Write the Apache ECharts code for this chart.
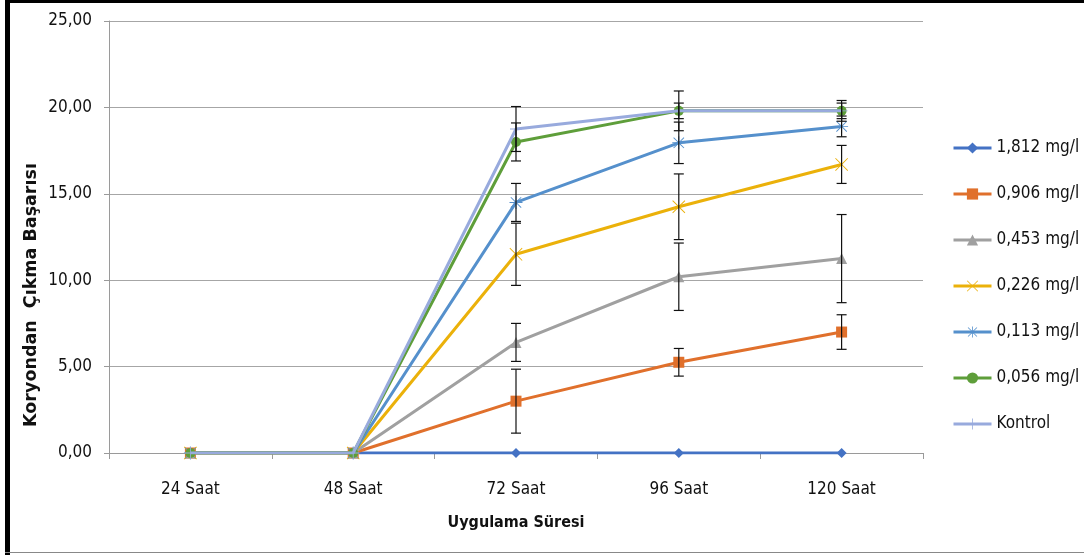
<!DOCTYPE html>
<html>
<head>
<meta charset="utf-8">
<script src="https://cdn.jsdelivr.net/npm/echarts@6/dist/echarts.min.js"></script>
<style>
html,body{margin:0;padding:0;background:#fff;}
#c{width:1084px;height:555px;}
</style>
</head>
<body>
<div id="c"></div>
<script>
// ---- data ----
var categories = ['24 Saat', '48 Saat', '72 Saat', '96 Saat', '120 Saat'];
var seriesNames = ['1,812 mg/l', '0,906 mg/l', '0,453 mg/l', '0,226 mg/l', '0,113 mg/l', '0,056 mg/l', 'Kontrol'];
var v1812 = [0, 0, 0, 0, 0];
var v0906 = [0, 0, 3.0, 5.25, 7.0];
var v0453 = [0, 0, 6.4, 10.2, 11.25];
var v0226 = [0, 0, 11.5, 14.25, 16.7];
var v0113 = [0, 0, 14.5, 17.95, 18.9];
var v0056 = [0, 0, 18.0, 19.8, 19.8];
var vKontrol = [0, 0, 18.75, 19.8, 19.8];
var e1812 = [0, 0, 0, 0, 0];
var e0906 = [0, 0, 1.85, 0.8, 1.0];
var e0453 = [0, 0, 1.1, 1.95, 2.55];
var e0226 = [0, 0, 1.8, 1.9, 1.1];
var e0113 = [0, 0, 1.1, 1.2, 0.6];
var e0056 = [0, 0, 1.1, 1.15, 0.6];
var eKontrol = [0, 0, 1.3, 0.45, 0.45];
var yTicks = [0, 5, 10, 15, 20, 25];

// ---- styles ----
var FONT = "'DejaVu Sans Condensed', 'Liberation Sans Narrow', 'Noto Sans', sans-serif";
var colors = ['#4472C4', '#E0702C', '#A0A0A0', '#EBB10A', '#5590CC', '#5E9E3A', '#98AADD'];
var symX = 'path://M0,1 L1,0 L10,9 L19,0 L20,1 L11,10 L20,19 L19,20 L10,11 L1,20 L0,19 L9,10 Z';
var symStar = 'path://M9.3,0 L10.7,0 L10.7,8.3 L17.5,1.5 L18.5,2.5 L11.7,9.3 L20,9.3 L20,10.7 L11.7,10.7 L18.5,17.5 L17.5,18.5 L10.7,11.7 L10.7,20 L9.3,20 L9.3,11.7 L2.5,18.5 L1.5,17.5 L8.3,10.7 L0,10.7 L0,9.3 L8.3,9.3 L1.5,2.5 L2.5,1.5 L9.3,8.3 Z';
var symPlus = 'path://M9.3,0 L10.7,0 L10.7,9.3 L20,9.3 L20,10.7 L10.7,10.7 L10.7,20 L9.3,20 L9.3,10.7 L0,10.7 L0,9.3 L9.3,9.3 Z';
var symbols = ['diamond', 'rect', 'triangle', symX, symStar, 'circle', symPlus];
var sizes = [10, 11, 11, 13, 13, 10, 12];
var values = [v1812, v0906, v0453, v0226, v0113, v0056, vKontrol];
var errors = [e1812, e0906, e0453, e0226, e0113, e0056, eKontrol];

var series = [];
for (var i = 0; i < seriesNames.length; i++) {
  series.push({
    name: seriesNames[i],
    type: 'line',
    data: values[i],
    symbol: symbols[i],
    symbolSize: sizes[i],
    showAllSymbol: true,
    z: 2 + i,
    lineStyle: { color: colors[i], width: 3 },
    itemStyle: { color: colors[i] },
    emphasis: { disabled: true },
    animation: false
  });
}

var errData = [];
for (var s = 0; s < values.length; s++) {
  for (var k = 0; k < categories.length; k++) {
    if (errors[s][k] > 0) {
      errData.push([k, values[s][k] - errors[s][k], values[s][k] + errors[s][k]]);
    }
  }
}
series.push({
  type: 'custom',
  name: 'err',
  z: 20,
  silent: true,
  animation: false,
  encode: { x: 0, y: [1, 2] },
  data: errData,
  renderItem: function (params, api) {
    var x = api.value(0);
    var lo = api.coord([x, api.value(1)]);
    var hi = api.coord([x, api.value(2)]);
    var hw = 5;
    var st = { stroke: '#111', lineWidth: 1.2 };
    return {
      type: 'group',
      children: [
        { type: 'line', shape: { x1: lo[0], y1: lo[1], x2: hi[0], y2: hi[1] }, style: st },
        { type: 'line', shape: { x1: lo[0] - hw, y1: lo[1], x2: lo[0] + hw, y2: lo[1] }, style: st },
        { type: 'line', shape: { x1: hi[0] - hw, y1: hi[1], x2: hi[0] + hw, y2: hi[1] }, style: st }
      ]
    };
  }
});

var chart = echarts.init(document.getElementById('c'), null, { renderer: 'canvas' });
chart.setOption({
  animation: false,
  backgroundColor: '#fff',
  textStyle: { fontFamily: FONT },
  grid: { left: 109, right: 161, top: 21, bottom: 102, containLabel: false },
  legend: {
    data: seriesNames,
    orient: 'vertical',
    left: 952,
    top: 138,
    padding: 0,
    itemWidth: 38,
    itemHeight: 14,
    itemGap: 26,
    selectedMode: false,
    lineStyle: { width: 3 },
    textStyle: { fontFamily: FONT, fontSize: 17, color: '#111', lineHeight: 20 }
  },
  xAxis: {
    type: 'category',
    data: categories,
    boundaryGap: true,
    axisLine: { lineStyle: { color: '#9a9a9a', width: 1 } },
    axisTick: { show: true, length: 6, lineStyle: { color: '#9a9a9a' } },
    axisLabel: { fontFamily: FONT, fontSize: 17, color: '#111', margin: 28 },
    splitLine: { show: false }
  },
  yAxis: {
    type: 'value',
    min: yTicks[0],
    max: yTicks[yTicks.length - 1],
    interval: 5,
    axisLine: { show: true, lineStyle: { color: '#9a9a9a', width: 1 } },
    axisTick: { show: true, length: 5, lineStyle: { color: '#9a9a9a' } },
    axisLabel: {
      fontFamily: FONT, fontSize: 17, color: '#111', margin: 17,
      formatter: function (v) { return v.toFixed(2).replace('.', ','); }
    },
    splitLine: { show: true, lineStyle: { color: '#a6a6a6', width: 1 } }
  },
  graphic: [
    { type: 'rect', left: 5, top: 0, shape: { width: 5, height: 555 }, style: { fill: '#000' }, z: 100 },
    { type: 'rect', left: 5, top: 0, shape: { width: 1079, height: 3 }, style: { fill: '#000' }, z: 100 },
    { type: 'rect', left: 5, top: 552, shape: { width: 1079, height: 1 }, style: { fill: '#888' }, z: 100 },
    {
      type: 'text', x: 31, y: 295, rotation: Math.PI / 2,
      style: {
        text: 'Koryondan  Çıkma Başarısı', fill: '#111',
        font: "bold 17.5px 'DejaVu Sans', 'Noto Sans', sans-serif",
        align: 'center', verticalAlign: 'middle'
      }
    },
    {
      type: 'text', x: 516, y: 523,
      style: {
        text: 'Uygulama Süresi', fill: '#111',
        font: "bold 16px " + FONT,
        align: 'center', verticalAlign: 'middle'
      }
    }
  ],
  series: series
});
</script>
</body>
</html>
